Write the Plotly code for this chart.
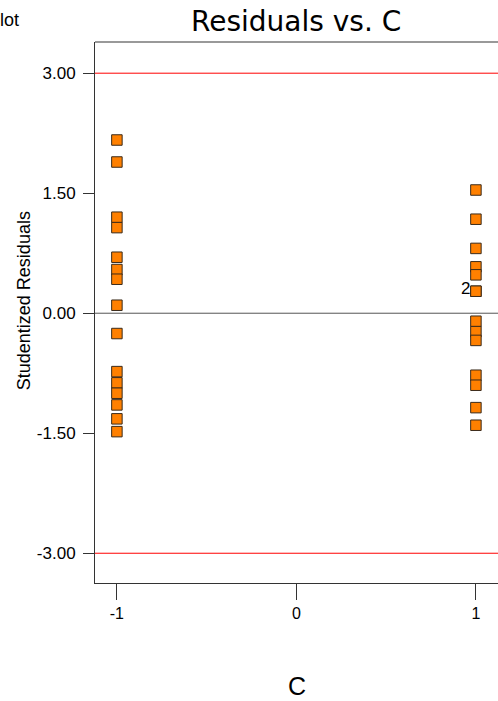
import plotly.graph_objects as go

# Studentized residuals grouped by factor level C
c_low_level = -1
c_high_level = 1
resid_c_low = [2.165, 1.89, 1.20, 1.07, 0.70, 0.546, 0.425, 0.10, -0.254,
               -0.73, -0.87, -1.0, -1.146, -1.32, -1.48]
resid_c_high = [1.54, 1.175, 0.81, 0.58, 0.48, 0.275, 0.275, -0.10, -0.23,
                -0.34, -0.775, -0.9, -1.18, -1.40]

# Outlier limits and tick labels
limit_upper = 3.0
limit_lower = -3.0
y_tick_vals = [-3.0, -1.5, 0.0, 1.5, 3.0]
y_tick_text = ["-3.00", "-1.50", "0.00", "1.50", "3.00"]
x_tick_vals = [-1, 0, 1]
x_tick_text = ["-1", "0", "1"]

FONT = "Liberation Sans, Arial, sans-serif"

xs = [c_low_level] * len(resid_c_low) + [c_high_level] * len(resid_c_high)
ys = resid_c_low + resid_c_high

fig = go.Figure()
fig.add_trace(go.Scatter(
    x=xs, y=ys, mode="markers",
    marker=dict(symbol="square", size=10.5, color="#FF8000",
                line=dict(color="#3a2a1a", width=1)),
    hoverinfo="x+y", showlegend=False,
))

# Reference lines: zero and the +/-3 limits
fig.add_hline(y=0, line=dict(color="#555555", width=1))
for lim in (limit_upper, limit_lower):
    fig.add_hline(y=lim, line=dict(color="#FF0000", width=1))

# Top frame edge
fig.add_shape(type="line", xref="paper", yref="paper", x0=0, x1=1, y0=1, y1=1,
              line=dict(color="#777777", width=1.5))

annotations = [
    dict(text="Residuals vs. C", xref="paper", yref="paper", x=0.499, y=1.037,
         xanchor="center", yanchor="middle", showarrow=False,
         font=dict(family="DejaVu Sans, " + FONT, size=28, color="black")),
    dict(text="lot", xref="paper", yref="paper", x=-0.183, y=1.041,
         xanchor="right", yanchor="middle", showarrow=False,
         font=dict(family=FONT, size=18, color="black")),
    dict(text="Studentized Residuals", xref="paper", yref="paper",
         x=-0.176, y=0.521, xanchor="center", yanchor="middle",
         textangle=-90, showarrow=False,
         font=dict(family=FONT, size=18, color="black")),
    dict(text="C", xref="paper", yref="paper", x=0.501, y=-0.19,
         xanchor="center", yanchor="middle", showarrow=False,
         font=dict(family=FONT, size=25, color="black")),
    # count label for the coincident pair of points
    dict(text="2", x=c_high_level, y=resid_c_high[5], xref="x", yref="y",
         xanchor="right", yanchor="middle", xshift=-4, yshift=3,
         showarrow=False, font=dict(family=FONT, size=17, color="black")),
]

fig.update_layout(
    width=498, height=701,
    margin=dict(l=95, r=0, t=42, b=118),
    paper_bgcolor="white", plot_bgcolor="white",
    font=dict(family=FONT, color="black"),
    annotations=annotations,
    xaxis=dict(range=[-1.122, 1.123], tickvals=x_tick_vals, ticktext=x_tick_text,
               ticks="outside", ticklen=16, tickcolor="#333333", tickwidth=1,
               showline=True, linecolor="#333333", linewidth=1,
               showgrid=False, zeroline=False,
               tickfont=dict(family=FONT, size=16, color="black")),
    yaxis=dict(range=[-3.372, 3.39], tickvals=y_tick_vals, ticktext=y_tick_text,
               ticks="outside", ticklen=11, tickcolor="#333333", tickwidth=1,
               showline=True, linecolor="#333333", linewidth=1,
               showgrid=False, zeroline=False, ticklabelstandoff=4,
               tickfont=dict(family=FONT, size=17, color="black")),
)

fig.write_html("out.html")
